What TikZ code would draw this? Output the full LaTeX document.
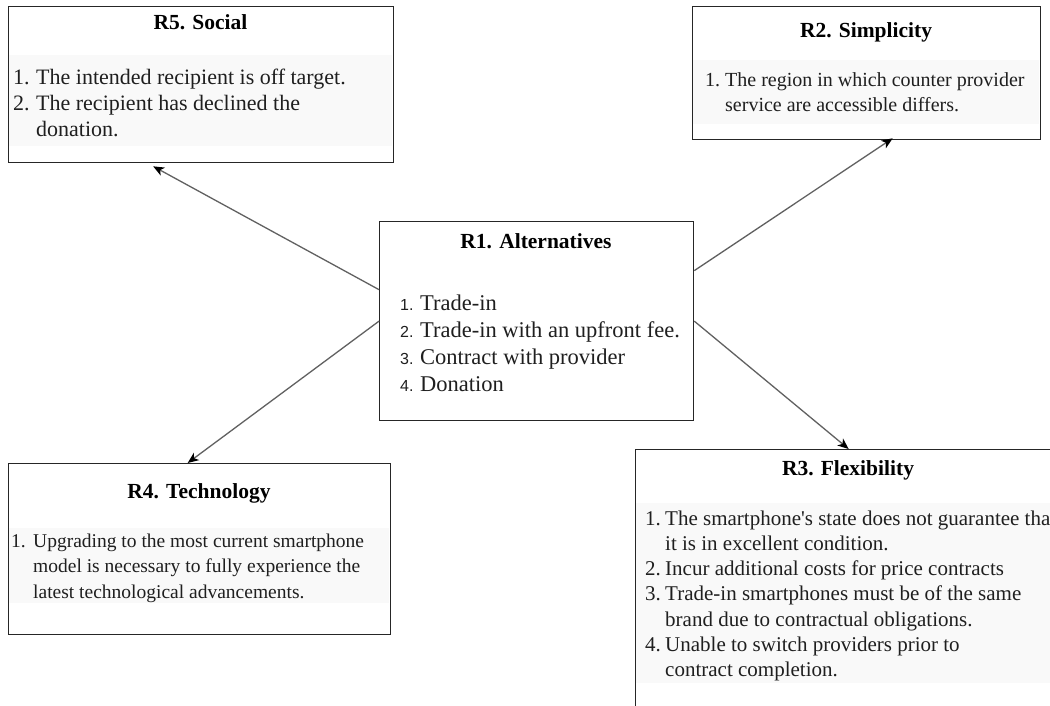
\documentclass[tikz,border=0pt]{standalone}
\usepackage{fontspec}
\setmainfont{Liberation Serif}
\newfontfamily\numfont{Liberation Sans}
\usetikzlibrary{arrows.meta}
\begin{document}
\begin{tikzpicture}[x=1pt,y=-1pt,
  box/.style={draw=black!85, line width=1.3pt, rectangle, inner sep=0pt, anchor=north west},
  ttl/.style={font=\bfseries\fontsize{21.5}{26}\selectfont, anchor=base, inner sep=0pt},
  lst/.style={anchor=base west, inner sep=0pt, text=black!88},
  conn/.style={draw=black!62, line width=1.3pt, -{Stealth[length=11pt,width=9pt,inset=3pt,color=black]}},
  bandfill/.style={fill=black!2.5}
]
\useasboundingbox (0,0) rectangle (1050,705);
\clip (0,0) rectangle (1050,705);
\fill[white] (0,0) rectangle (1050,705);

% faint text bands
\fill[bandfill] (9,55) rectangle (392,146);
\fill[bandfill] (693,60) rectangle (1039,124);
\fill[bandfill] (9,528) rectangle (389,603);
\fill[bandfill] (636,503) rectangle (1050,683);

% boxes
\node[box, minimum width=385pt, minimum height=156pt] (r5) at (8,6) {};
\node[box, minimum width=348pt, minimum height=133pt] (r2) at (692,6) {};
\node[box, minimum width=314pt, minimum height=199pt] (r1) at (379,221) {};
\node[box, minimum width=382pt, minimum height=171pt] (r4) at (8,463) {};
\node[box, minimum width=426pt, minimum height=300pt] (r3) at (635,449) {};

% titles
\node[ttl] (r5t) at (200.5,29) {R5. Social};
\node[ttl] (r2t) at (866,37) {R2. Simplicity};
\node[ttl] (r1t) at (536,248) {R1. Alternatives};
\node[ttl] (r4t) at (199,498) {R4. Technology};
\node[ttl] (r3t) at (848,475) {R3. Flexibility};

% lists
\node[lst, font=\fontsize{22}{26}\selectfont] (r5l) at (13,84)
 {\begin{tabular}[t]{@{}p{23pt}@{}l@{}}
 1. & The intended recipient is off target.\\
 2. & The recipient has declined the\\
    & donation.
 \end{tabular}};

\node[lst, font=\fontsize{20}{25}\selectfont] (r2l) at (705,86)
 {\begin{tabular}[t]{@{}p{20pt}@{}l@{}}
 1. & The region in which counter provider\\
    & service are accessible differs.
 \end{tabular}};

\node[lst, font=\fontsize{22.5}{27}\selectfont] (r1l) at (400,310)
 {\begin{tabular}[t]{@{}p{20pt}@{}l@{}}
 {\numfont\fontsize{16}{27}\selectfont 1.} & Trade-in\\
 {\numfont\fontsize{16}{27}\selectfont 2.} & Trade-in with an upfront fee.\\
 {\numfont\fontsize{16}{27}\selectfont 3.} & Contract with provider\\
 {\numfont\fontsize{16}{27}\selectfont 4.} & Donation
 \end{tabular}};

\node[lst, font=\fontsize{19.5}{25.5}\selectfont] (r4l) at (11,547)
 {\begin{tabular}[t]{@{}p{22pt}@{}l@{}}
 1. & Upgrading to the most current smartphone\\
    & model is necessary to fully experience the\\
    & latest technological advancements.
 \end{tabular}};

\node[lst, font=\fontsize{21}{25.3}\selectfont] (r3l) at (645,525)
 {\begin{tabular}[t]{@{}p{20pt}@{}l@{}}
 1. & The smartphone\textquotesingle s state does not guarantee that\\
    & it is in excellent condition.\\
 2. & Incur additional costs for price contracts\\
 3. & Trade-in smartphones must be of the same\\
    & brand due to contractual obligations.\\
 4. & Unable to switch providers prior to\\
    & contract completion.
 \end{tabular}};

% connectors
\draw[conn] ([yshift=31.5pt]r1.west) -- ([xshift=-48pt,yshift=-3pt]r5.south);
\draw[conn] ([yshift=50.5pt]r1.east) -- ([xshift=26pt,yshift=2pt]r2.south);
\draw[conn] (r1.west) -- ([xshift=-12pt]r4.north);
\draw[conn] (r1.east) -- (r3.north);
\end{tikzpicture}
\end{document}
